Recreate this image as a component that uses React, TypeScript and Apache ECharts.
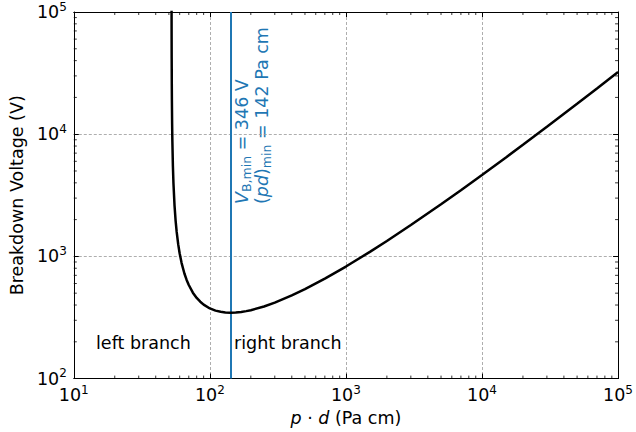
import React, { useEffect, useRef } from 'react';
import * as echarts from 'echarts';

// Paschen curve (p·d in Pa cm, breakdown voltage in V)
const pd = [52.3, 52.35, 52.4, 52.5, 52.6, 52.8, 53, 53.5, 54, 55, 56, 57, 58.5, 60, 62, 65, 67.5, 70, 75, 80, 85, 90, 100, 110, 120, 130, 142, 155, 170, 185, 200, 250, 300, 400, 500, 700, 1000, 1500, 2000, 3000, 5000, 7000, 10000, 15000, 20000, 30000, 50000, 70000, 100000];
const voltage = [111000, 60637, 41760, 25769, 18667, 12067, 8943, 5470, 3972, 2604, 1963, 1593, 1260, 1056, 882, 725, 642, 583, 505, 457, 426, 403, 375, 360, 352, 347.5, 346, 347.3, 351, 356.5, 363, 389, 418, 479, 539, 657, 826, 1089, 1337, 1805, 2671, 3483, 4638, 6459, 8195, 11508, 17752, 23692, 32248];

const VB_MIN = 346;
const PD_MIN = 142;

const X_MIN = 10;
const X_MAX = 100000;
const Y_MIN = 100;
const Y_MAX = 100000;

const minorMultipliers = [2, 3, 4, 5, 6, 7, 8, 9];
const xDecades = [10, 100, 1000, 10000];
const yDecades = [100, 1000, 10000];

const FONT = 'DejaVu Sans';
const BLUE = '#1f77b4';
const FS = 17.5;

export default function App() {
  const ref = useRef<HTMLDivElement>(null);

  useEffect(() => {
    if (!ref.current) return;
    const chart = echarts.init(ref.current, undefined, { renderer: 'svg' });

    const tickData: number[][] = [];
    xDecades.forEach((d) => minorMultipliers.forEach((m) => tickData.push([d * m, 1000, 0])));
    yDecades.forEach((d) => minorMultipliers.forEach((m) => tickData.push([100, d * m, 1])));

    const powLabel = (v: number) => `{b|10}{s|${Math.round(Math.log10(v))}}`;
    const labelRich = {
      b: { fontSize: FS, fontFamily: FONT, color: '#000' },
      s: { fontSize: 12, fontFamily: FONT, color: '#000', padding: [0, 0, 11, 0] },
    };

    const baseAxis = {
      type: 'log' as const,
      logBase: 10,
      axisLine: { show: true, lineStyle: { color: '#000', width: 1 } },
      axisTick: { show: true, inside: true, length: 5, lineStyle: { color: '#000', width: 1 } },
      minorTick: { show: false },
    };

    chart.setOption({
      animation: false,
      backgroundColor: '#fff',
      grid: { left: 71, right: 15, top: 12, bottom: 52, containLabel: false },
      xAxis: [
        {
          ...baseAxis,
          min: X_MIN,
          max: X_MAX,
          position: 'bottom',
          axisLabel: {
            margin: 5,
            formatter: powLabel,
            rich: labelRich,
          },
          splitLine: { show: true, lineStyle: { color: '#999', width: 0.8, type: [3, 2] } },
          name: '{i|p}{t| · }{i|d}{t| (Pa cm)}',
          nameLocation: 'middle',
          nameGap: 25,
          nameTextStyle: {
            rich: {
              i: { fontSize: FS, fontFamily: FONT, fontStyle: 'italic', color: '#000' },
              t: { fontSize: FS, fontFamily: FONT, color: '#000' },
            },
          },
        },
        {
          ...baseAxis,
          min: X_MIN,
          max: X_MAX,
          position: 'top',
          axisLabel: { show: false },
          splitLine: { show: false },
        },
      ],
      yAxis: [
        {
          ...baseAxis,
          min: Y_MIN,
          max: Y_MAX,
          position: 'left',
          axisLabel: {
            margin: 7,
            formatter: powLabel,
            rich: labelRich,
          },
          splitLine: { show: true, lineStyle: { color: '#999', width: 0.8, type: [3, 2] } },
          name: 'Breakdown Voltage (V)',
          nameLocation: 'middle',
          nameGap: 44,
          nameTextStyle: { fontSize: FS, fontFamily: FONT, color: '#000' },
        },
        {
          ...baseAxis,
          min: Y_MIN,
          max: Y_MAX,
          position: 'right',
          axisLabel: { show: false },
          splitLine: { show: false },
        },
      ],
      series: [
        {
          type: 'line',
          data: pd.map((x, i) => [x, voltage[i]]),
          showSymbol: false,
          symbol: 'none',
          smooth: false,
          clip: true,
          lineStyle: { color: '#000', width: 2.5 },
          z: 5,
          markLine: {
            silent: true,
            symbol: ['none', 'none'],
            label: { show: false },
            lineStyle: { color: BLUE, width: 2, type: 'solid' },
            data: [{ xAxis: PD_MIN }],
          },
        },
        {
          type: 'custom',
          silent: true,
          z: 10,
          data: tickData,
          renderItem: (params: any, api: any) => {
            const cs = params.coordSys;
            const p = api.coord([api.value(0), api.value(1)]);
            const style = { stroke: '#000', lineWidth: 0.8 };
            const L = 3;
            if (api.value(2) === 0) {
              const x = p[0];
              return {
                type: 'group',
                children: [
                  { type: 'line', shape: { x1: x, y1: cs.y + cs.height, x2: x, y2: cs.y + cs.height - L }, style },
                  { type: 'line', shape: { x1: x, y1: cs.y, x2: x, y2: cs.y + L }, style },
                ],
              };
            }
            const y = p[1];
            return {
              type: 'group',
              children: [
                { type: 'line', shape: { x1: cs.x, y1: y, x2: cs.x + L, y2: y }, style },
                { type: 'line', shape: { x1: cs.x + cs.width, y1: y, x2: cs.x + cs.width - L, y2: y }, style },
              ],
            };
          },
        },
      ],
      graphic: [
        {
          type: 'text',
          x: 96,
          y: 343,
          style: { text: 'left branch', fontSize: FS, fontFamily: FONT, fill: '#000', align: 'left', verticalAlign: 'middle' },
        },
        {
          type: 'text',
          x: 234,
          y: 343,
          style: { text: 'right branch', fontSize: FS, fontFamily: FONT, fill: '#000', align: 'left', verticalAlign: 'middle' },
        },
        {
          type: 'text',
          x: 242,
          y: 204,
          rotation: Math.PI / 2,
          style: {
            text: `{vi|V}{sub|B,min}{t| = ${VB_MIN} V}`,
            align: 'left',
            verticalAlign: 'middle',
            fill: BLUE,
            rich: {
              vi: { fontSize: FS, fontFamily: FONT, fontStyle: 'italic', fill: BLUE },
              sub: { fontSize: 12.5, fontFamily: FONT, fill: BLUE, padding: [9, 0, 0, 0] },
              t: { fontSize: FS, fontFamily: FONT, fill: BLUE },
            },
          },
        },
        {
          type: 'text',
          x: 262,
          y: 204,
          rotation: Math.PI / 2,
          style: {
            text: `{t|(}{i|pd}{t|)}{sub|min}{t| = ${PD_MIN} Pa cm}`,
            align: 'left',
            verticalAlign: 'middle',
            fill: BLUE,
            rich: {
              i: { fontSize: FS, fontFamily: FONT, fontStyle: 'italic', fill: BLUE },
              sub: { fontSize: 12.5, fontFamily: FONT, fill: BLUE, padding: [9, 0, 0, 0] },
              t: { fontSize: FS, fontFamily: FONT, fill: BLUE },
            },
          },
        },
      ],
    });

    return () => chart.dispose();
  }, []);

  return <div ref={ref} style={{ width: 636, height: 432, position: 'absolute', left: 0, top: 0 }} />;
}
